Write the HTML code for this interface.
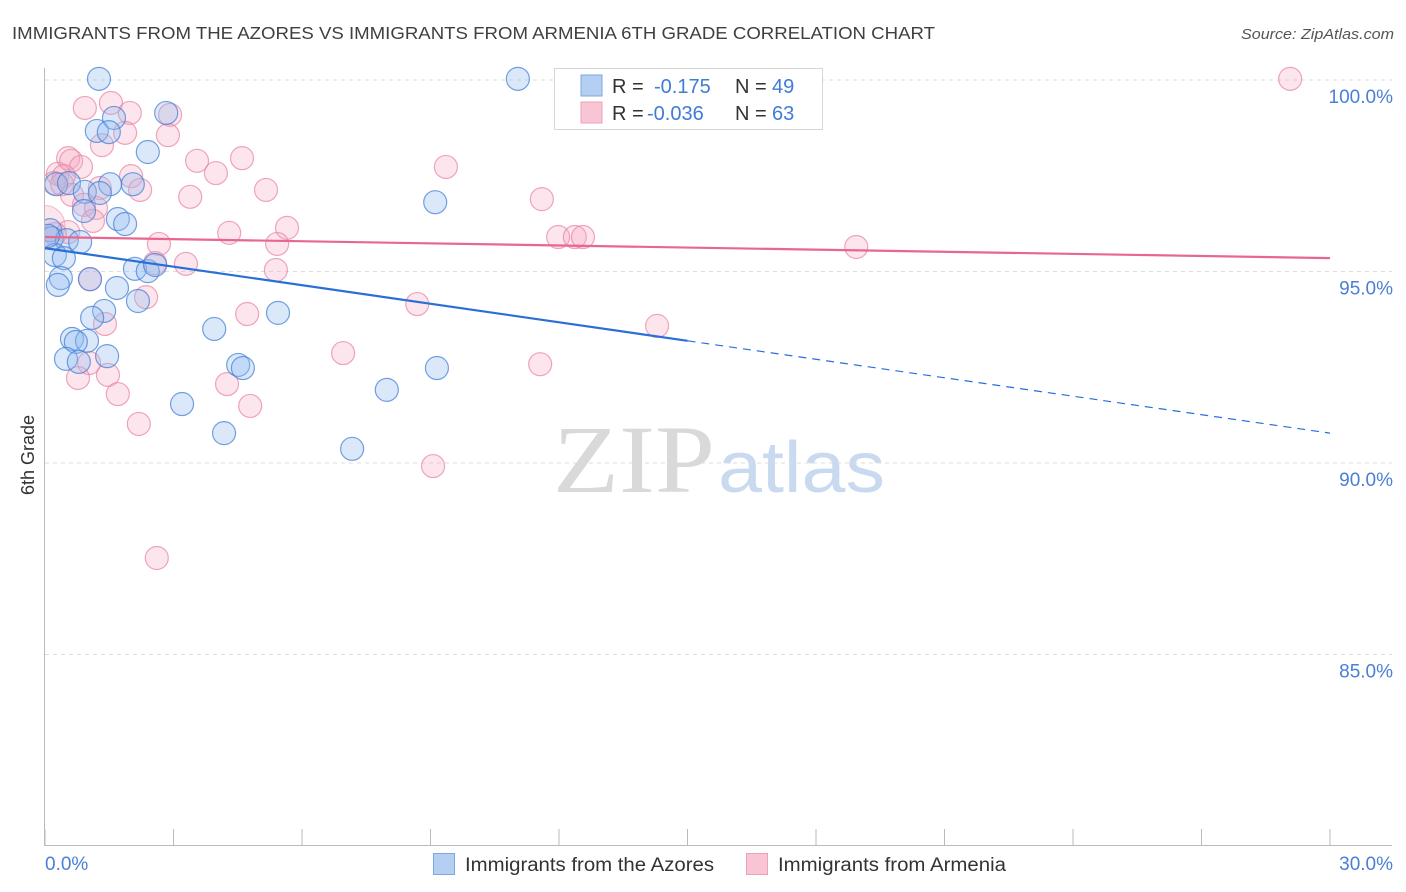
<!DOCTYPE html>
<html><head><meta charset="utf-8"><style>
body{margin:0;background:#fff;font-family:"Liberation Sans",sans-serif;}
svg{display:block}
</style></head><body>
<svg id="chart" width="1406" height="892" xmlns="http://www.w3.org/2000/svg">
<defs><clipPath id="plotclip"><rect x="45" y="40" width="1360" height="806"/></clipPath></defs>
<text x="12" y="39" font-size="17.5" fill="#3f3f3f" textLength="923" lengthAdjust="spacingAndGlyphs">IMMIGRANTS FROM THE AZORES VS IMMIGRANTS FROM ARMENIA 6TH GRADE CORRELATION CHART</text>
<text x="1241" y="39" font-size="15" font-style="italic" fill="#555" textLength="153" lengthAdjust="spacingAndGlyphs">Source: ZipAtlas.com</text>
<g>
<text x="553" y="492" font-family="Liberation Serif,serif" font-size="96" fill="#d9d9d9" textLength="162" lengthAdjust="spacingAndGlyphs">ZIP</text>
<text x="718" y="492" font-size="72" fill="#c9daf0" textLength="167" lengthAdjust="spacingAndGlyphs">atlas</text>
</g>
<g id="grid"></g>
<g id="axes"></g>
<g id="marks" clip-path="url(#plotclip)"></g>
<g id="trend"></g>
<text transform="translate(34,455) rotate(-90)" font-size="18" fill="#333" text-anchor="middle">6th Grade</text>
<text x="45" y="870" font-size="19" fill="#4a7fd6">0.0%</text>
<text x="1393" y="870" font-size="19" fill="#4a7fd6" text-anchor="end">30.0%</text>
<g>
<rect x="554.5" y="68.5" width="268" height="61" fill="#fff" stroke="#d6d6d6"/>
<rect x="581" y="75" width="21" height="21" fill="#b5cff2" stroke="#7ea7e0"/>
<rect x="581" y="102" width="21" height="21" fill="#f8c5d4" stroke="#eea1b8"/>
<text x="612" y="93" font-size="20" fill="#333">R = <tspan x="654" fill="#3f7bd8">-0.175</tspan><tspan x="735" fill="#333">N = </tspan><tspan x="772" fill="#3f7bd8">49</tspan></text>
<text x="612" y="120" font-size="20" fill="#333">R = <tspan x="647" fill="#3f7bd8">-0.036</tspan><tspan x="735" fill="#333">N = </tspan><tspan x="772" fill="#3f7bd8">63</tspan></text>
</g>
<g>
<rect x="433.5" y="853.5" width="21" height="21" fill="#b5cff2" stroke="#7ea7e0"/>
<text x="465" y="871" font-size="19" fill="#333" textLength="249" lengthAdjust="spacingAndGlyphs">Immigrants from the Azores</text>
<rect x="746.5" y="853.5" width="21" height="21" fill="#f8c5d4" stroke="#eea1b8"/>
<text x="778" y="871" font-size="19" fill="#333" textLength="228" lengthAdjust="spacingAndGlyphs">Immigrants from Armenia</text>
</g>
</svg>
<script>
const yTicks=[100,95,90,85];
const yTickLabels=["100.0%","95.0%","90.0%","85.0%"];
const xTicks=[0,3,6,9,12,15,18,21,24,27,30];
const azoresX=[1.26,11.04,2.83,1.61,1.21,1.49,2.40,0.26,0.56,1.52,2.05,0.93,1.28,0.91,1.70,1.87,9.11,0.12,0.16,0.51,0.82,0.23,0.44,2.10,2.40,2.57,0.37,0.30,1.05,1.68,2.17,1.38,1.10,5.44,3.95,0.63,0.98,0.72,1.45,0.49,0.79,4.51,4.62,9.15,7.98,3.20,4.18,7.17,0.07];
const azoresY=[100.03,100.03,99.14,99.01,98.67,98.64,98.12,97.28,97.31,97.28,97.28,97.08,97.05,96.58,96.37,96.24,96.81,96.08,95.87,95.82,95.77,95.43,95.35,95.07,95.01,95.17,94.83,94.65,94.80,94.57,94.23,93.97,93.79,93.92,93.50,93.24,93.19,93.16,92.79,92.72,92.64,92.56,92.48,92.48,91.91,91.54,90.78,90.37,95.93];
const armeniaX=[29.07,0.93,1.54,1.98,2.92,2.87,1.87,1.33,0.54,0.61,0.84,3.55,4.60,9.36,3.99,0.30,0.44,2.01,0.21,0.40,1.28,2.22,5.16,0.63,3.39,11.60,0.91,1.19,1.12,5.65,4.30,11.98,12.37,12.56,0.54,0.23,2.66,5.42,18.94,2.57,3.29,5.39,1.05,2.36,8.69,4.72,1.40,14.29,6.96,1.03,11.56,1.47,0.77,4.25,1.70,4.79,2.19,9.06,2.61];
const armeniaY=[100.03,99.27,99.40,99.14,99.09,98.56,98.62,98.30,97.96,97.89,97.73,97.89,97.96,97.73,97.57,97.55,97.49,97.49,97.31,97.28,97.18,97.13,97.13,97.00,96.95,96.89,96.74,96.66,96.32,96.14,96.01,95.90,95.90,95.90,96.03,95.98,95.72,95.72,95.64,95.22,95.20,95.04,94.80,94.33,94.15,93.89,93.63,93.58,92.87,92.61,92.58,92.30,92.22,92.06,91.80,91.49,91.02,89.92,87.52];
const azoresTrend=[95.61,93.19,90.78]; // at x=0,15,30
const armeniaTrend=[95.90,95.35]; // at x=0,30

const NS="http://www.w3.org/2000/svg";
const X=v=>45+v*(1330-45)/30;
const Y=v=>80+(100-v)*191.5/5;
function mk(tag,attrs,parent){const e=document.createElementNS(NS,tag);for(const k in attrs)e.setAttribute(k,attrs[k]);parent.appendChild(e);return e;}
const grid=document.getElementById('grid'),axes=document.getElementById('axes'),marks=document.getElementById('marks'),trend=document.getElementById('trend');
yTicks.forEach((t,i)=>{
  const l=mk('line',{x1:45,x2:1392,y1:Y(t),y2:Y(t),stroke:'#dcdcdc','stroke-dasharray':'4,4'},grid);
  
  
  const tx=mk('text',{x:1393,y:Y(t)+23,'font-size':19,fill:'#4a7fd6','text-anchor':'end'},grid);
  tx.textContent=yTickLabels[i];
  
  
});
const ya=mk('line',{x1:44.5,x2:44.5,y1:68,y2:846,stroke:'#bbb'},axes);


const xa=mk('line',{x1:44,x2:1392,y1:845.5,y2:845.5,stroke:'#bbb'},axes);


xTicks.forEach(t=>{
  const l=mk('line',{x1:X(t),x2:X(t),y1:829,y2:845,stroke:'#bbb'},axes);
  
  
});
const big=mk('circle',{cx:X(0),cy:Y(96.2),r:20,fill:'rgba(245,170,192,0.3)',stroke:'rgba(232,130,162,0.5)'},marks);


armeniaX.forEach((x,i)=>{
  const c=mk('circle',{cx:X(x),cy:Y(armeniaY[i]),r:11.5,fill:'rgba(245,170,192,0.3)',stroke:'rgba(232,130,162,0.7)','stroke-width':1.2},marks);
  
  
});
azoresX.forEach((x,i)=>{
  const c=mk('circle',{cx:X(x),cy:Y(azoresY[i]),r:11.5,fill:'rgba(150,190,240,0.35)',stroke:'rgba(70,130,215,0.75)','stroke-width':1.2},marks);
  
  
});
const tb=mk('line',{x1:X(0),y1:Y(azoresTrend[0]),x2:X(15),y2:Y(azoresTrend[1]),stroke:'#2a6fd6','stroke-width':2.2},trend);


const tbd=mk('line',{x1:X(15),y1:Y(azoresTrend[1]),x2:X(30),y2:Y(azoresTrend[2]),stroke:'#2a6fd6','stroke-width':1.2,'stroke-dasharray':'8,6'},trend);


const tp=mk('line',{x1:X(0),y1:Y(armeniaTrend[0]),x2:X(30),y2:Y(armeniaTrend[1]),stroke:'#e8678f','stroke-width':2.2},trend);


</script>
</body></html>
